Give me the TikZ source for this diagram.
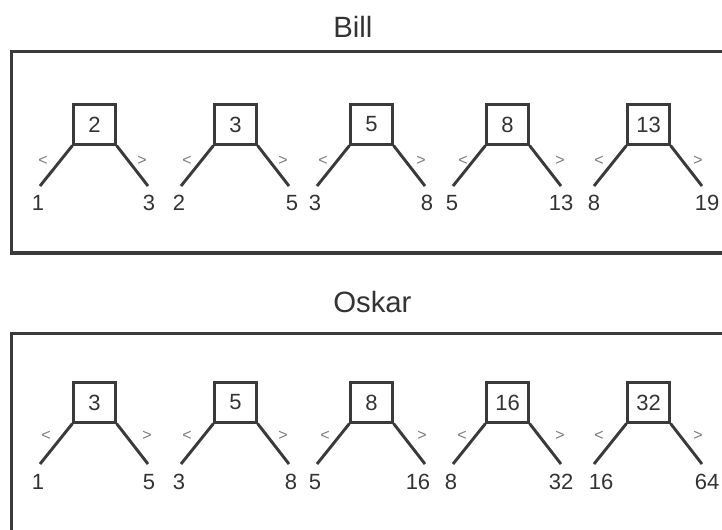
\documentclass[tikz,border=0pt]{standalone}
\usepackage{fontspec}
\setmainfont{Liberation Sans}
\definecolor{ln}{HTML}{3A3A3A}
\definecolor{txt}{HTML}{333333}
\definecolor{cmpc}{HTML}{7A7A7A}
\begin{document}
\begin{tikzpicture}[x=0.75pt,y=-0.75pt,
  sq/.style={draw=ln, line width=2.2pt, minimum width=31pt, minimum height=29.5pt, inner sep=0pt, font=\fontsize{16.5}{18}\selectfont, text=txt},
  leaf/.style={font=\fontsize{16.5}{18}\selectfont, text=txt, inner sep=0pt, anchor=base},
  cmp/.style={font=\fontsize{12}{13}\selectfont, text=cmpc, inner sep=0pt},
  edge/.style={draw=ln, line width=2.2pt},
  frame/.style={draw=ln, line width=2.4pt},
  title/.style={font=\fontsize{22}{24}\selectfont, text=txt, inner sep=0pt, anchor=base west}]
\useasboundingbox (0,0) rectangle (722,529);
\begin{scope}
  \clip (0,0) rectangle (722,529);
  \draw[frame] (11.5,51.5) rectangle (745,253);
  \draw[frame] (11.5,333.5) rectangle (745,570);
\end{scope}
\node[title] (tbill) at (333,37) {Bill};
\node[title] (toskar) at (333,312) {Oskar};
% top row (Bill)
\foreach \i/\sx/\r/\a/\ax/\b/\bx/\lx/\gx in {1/73/2/1/38/3/149/43/142, 2/214/3/2/179/5/292/187/283, 3/350/5/3/315/8/427/323/421, 4/486/8/5/452/13/561/463/560, 5/627/13/8/594/19/707/599/698} {
  \node[sq] (b\i) at (\sx+21.5,124.5) {\r};
  \coordinate (bl\i) at (\sx-33,186);
  \coordinate (br\i) at (\sx+75,186);
  \draw[edge] (b\i.south west) -- (bl\i);
  \draw[edge] (b\i.south east) -- (br\i);
  \node[leaf] (bla\i) at (\ax,210) {\a};
  \node[leaf] (blb\i) at (\bx,210) {\b};
  \node[cmp] (blt\i) at (\lx,161) {<};
  \node[cmp] (bgt\i) at (\gx,161) {>};
}
% bottom row (Oskar)
\foreach \i/\sx/\r/\a/\ax/\b/\bx/\lx/\gx in {1/73/3/1/38/5/149/46/147, 2/214/5/3/179/8/291/187/283, 3/350/8/5/315/16/418/325/422, 4/486/16/8/451/32/561/462/560, 5/627/32/16/601/64/707/599/698} {
  \node[sq] (o\i) at (\sx+21.5,402.5) {\r};
  \coordinate (ol\i) at (\sx-33,464);
  \coordinate (or\i) at (\sx+75,464);
  \draw[edge] (o\i.south west) -- (ol\i);
  \draw[edge] (o\i.south east) -- (or\i);
  \node[leaf] (ola\i) at (\ax,489) {\a};
  \node[leaf] (olb\i) at (\bx,489) {\b};
  \node[cmp] (olt\i) at (\lx,436) {<};
  \node[cmp] (ogt\i) at (\gx,436) {>};
}
\end{tikzpicture}
\end{document}
